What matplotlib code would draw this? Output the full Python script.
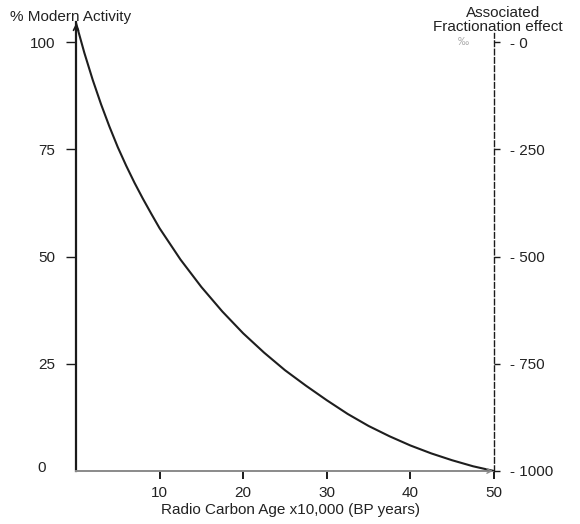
import matplotlib
matplotlib.use("Agg")
import matplotlib.pyplot as plt

plt.rcParams["font.family"] = ["Liberation Sans", "DejaVu Sans"]

# values
age = [0, 1, 2, 3, 4, 5, 6, 7, 8, 9, 10, 12.5, 15, 17.5, 20, 22.5, 25,
       27.5, 30, 32.5, 35, 37.5, 40, 42.5, 45, 47.5, 50]
activity = [104.5, 97.5, 91.2, 85.5, 80.3, 75.5, 71.2, 67.2, 63.5, 60.0, 56.6,
            49.3, 42.9, 37.2, 32.1, 27.6, 23.5, 19.9, 16.5, 13.3, 10.5,
            8.1, 5.95, 4.1, 2.5, 1.1, 0.0]

x_ticks = [10, 20, 30, 40, 50]
left_ticks = [25, 50, 75, 100]
right_ticks = [0, 250, 500, 750, 1000]

W, H = 580, 524
fig = plt.figure(figsize=(W / 100, H / 100), dpi=100)
ax = fig.add_axes([76 / W, 53 / H, 418 / W, 449 / H])

ymax = 104.7
ax.plot(age, activity, color="#1e1e1e", linewidth=1.5, zorder=3,
        solid_capstyle="round", solid_joinstyle="round")

ax.set_xlim(0, 50)
ax.set_ylim(0, ymax)

for s in ["top", "right"]:
    ax.spines[s].set_visible(False)
ax.spines["left"].set_color("#1a1a1a")
ax.spines["left"].set_linewidth(1.6)
ax.spines["bottom"].set_color("#8a8a8a")
ax.spines["bottom"].set_linewidth(1.4)

# tick sizes in points (reference pixels * 0.72)
ax.set_xticks(x_ticks)
ax.set_xticklabels([str(t) for t in x_ticks])
ax.tick_params(axis="x", direction="out", length=6, width=1.4,
               color="#1a1a1a", labelsize=11, pad=5, labelcolor="#222222")
ax.set_yticks(left_ticks)
ax.set_yticklabels([str(t) for t in left_ticks])
ax.tick_params(axis="y", direction="out", length=7.2, width=1.0,
               color="#1a1a1a", labelsize=11, pad=8, labelcolor="#222222")
ax.text(-4.1, 0.8, "0", fontsize=11, color="#222222", ha="center",
        va="center")

# arrowheads on the axes
ax.annotate("", xy=(0, ymax + 0.3), xytext=(0, ymax - 3),
            arrowprops=dict(arrowstyle="->", color="#1a1a1a", lw=1.2,
                            mutation_scale=9), annotation_clip=False)
ax.annotate("", xy=(50.2, 0), xytext=(48.5, 0),
            arrowprops=dict(arrowstyle="->", color="#8a8a8a", lw=1.0,
                            mutation_scale=8), annotation_clip=False)

# right axis: fractionation effect
ax2 = ax.twinx()
ax2.set_ylim(1000, 1000 - ymax * 10)
for s in ["top", "left", "bottom"]:
    ax2.spines[s].set_visible(False)
ax2.spines["right"].set_linestyle((0, (4, 2)))
ax2.spines["right"].set_linewidth(1.0)
ax2.spines["right"].set_color("#1a1a1a")
ax2.spines["right"].set_bounds(1000, -22)
ax2.set_yticks(right_ticks)
ax2.set_yticklabels(["- " + str(t) for t in right_ticks])
ax2.tick_params(axis="y", direction="out", length=4.3, width=1.0,
                color="#1a1a1a", labelsize=11, pad=7, labelcolor="#222222")

fig.text(10 / W, 1 - 17 / H, "% Modern Activity", fontsize=11,
         color="#222222", ha="left", va="center")
fig.text(503 / W, 1 - 13 / H, "Associated", fontsize=11,
         color="#222222", ha="center", va="center")
fig.text(498 / W, 1 - 27 / H, "Fractionation effect", fontsize=11,
         color="#222222", ha="center", va="center")
fig.text(463 / W, 1 - 42 / H, "\u2030", fontsize=8, color="#aaaaaa",
         ha="center", va="center")
fig.text(291 / W, 1 - 510 / H, "Radio Carbon Age x10,000 (BP years)",
         fontsize=11, color="#222222", ha="center", va="center")

fig.savefig("out.png", dpi=100)
